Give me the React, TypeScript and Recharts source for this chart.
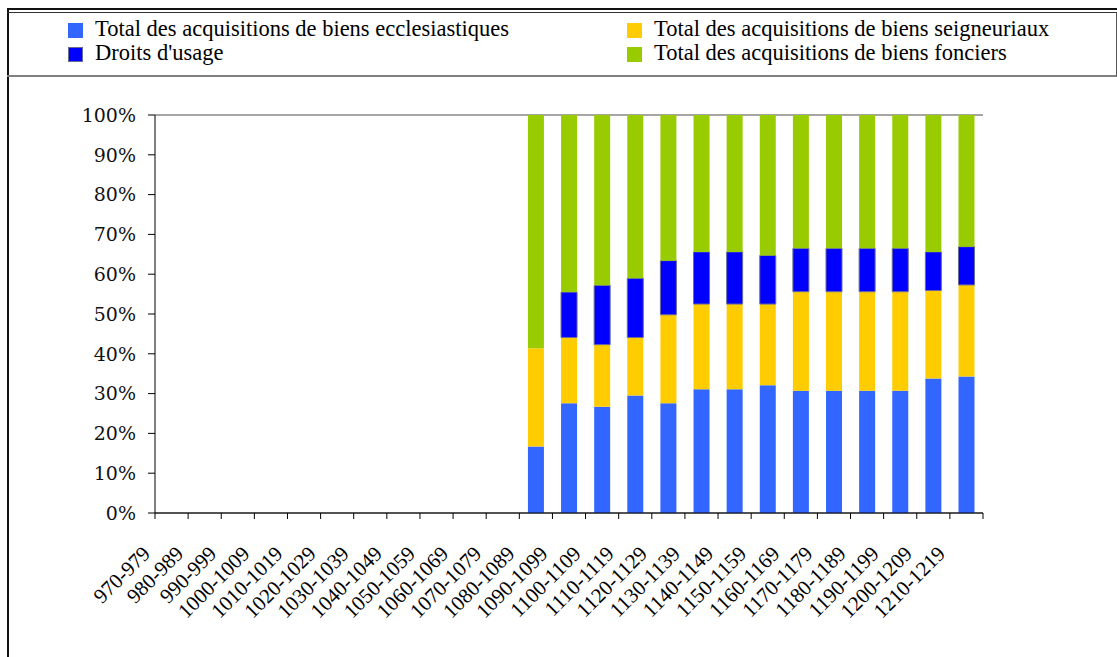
import React from 'react';
import { BarChart, Bar, XAxis, YAxis, CartesianGrid } from 'recharts';

const categories = [
  '970-979', '980-989', '990-999', '1000-1009', '1010-1019', '1020-1029', '1030-1039',
  '1040-1049', '1050-1059', '1060-1069', '1070-1079', '1080-1089', '1090-1099', '1100-1109',
  '1110-1119', '1120-1129', '1130-1139', '1140-1149', '1150-1159', '1160-1169', '1170-1179',
  '1180-1189', '1190-1199', '1200-1209', '1210-1219',
];

const ecclesiastiques = [0, 0, 0, 0, 0, 0, 0, 0, 0, 0, 0, 16.7, 27.6, 26.7, 29.5, 27.6, 31.1, 31.1, 32.1, 30.7, 30.7, 30.7, 30.7, 33.8, 34.3];
const seigneuriaux = [0, 0, 0, 0, 0, 0, 0, 0, 0, 0, 0, 24.7, 16.5, 15.6, 14.6, 22.2, 21.4, 21.4, 20.4, 24.9, 24.9, 24.9, 24.9, 22.1, 23.0];
const droitsUsage = [0, 0, 0, 0, 0, 0, 0, 0, 0, 0, 0, 0, 11.4, 14.9, 14.9, 13.6, 13.1, 13.1, 12.2, 10.9, 10.9, 10.9, 10.9, 9.7, 9.6];
const fonciers = [0, 0, 0, 0, 0, 0, 0, 0, 0, 0, 0, 58.6, 44.5, 42.8, 41.0, 36.6, 34.4, 34.4, 35.3, 33.5, 33.5, 33.5, 33.5, 34.4, 33.1];

const yTicks = [0, 10, 20, 30, 40, 50, 60, 70, 80, 90, 100];

const seriesNames = [
  'Total des acquisitions de biens ecclesiastiques',
  'Total des acquisitions de biens seigneuriaux',
  "Droits d'usage",
  'Total des acquisitions de biens fonciers',
];
const seriesKeys = ['eccl', 'seign', 'droits', 'fonc'];
const seriesColors = ['#3366FF', '#FFCC00', '#0000FF', '#99CC00'];
const seriesStrokes = ['none', 'none', '#6b6b99', 'none'];

const data = categories.map((c, i) => ({
  cat: c,
  eccl: ecclesiastiques[i],
  seign: seigneuriaux[i],
  droits: droitsUsage[i],
  fonc: fonciers[i],
}));

const FONT = '"Liberation Serif", "Times New Roman", serif';
const YFONT = '"DejaVu Serif", serif';
const PLOT_W = 1117 - 155 - 134;
const BAND = PLOT_W / categories.length;

const XTick = (props: any) => {
  const { x, y, payload, index } = props;
  const half = payload && typeof payload.offset === 'number' && payload.offset > 0 ? payload.offset : BAND / 2;
  const isLast = index === categories.length - 1;
  const px = x - 20;
  const py = y + 42;
  return (
    <g>
      <line x1={x - half} x2={x - half} y1={y} y2={y + 6} stroke="#000" strokeWidth={1} />
      {isLast && <line x1={x + half} x2={x + half} y1={y} y2={y + 6} stroke="#000" strokeWidth={1} />}
      <text
        x={px}
        y={py}
        textAnchor="end"
        fontFamily={FONT}
        fontSize={21}
        fill="#000"
        transform={`rotate(-45 ${px} ${py})`}
      >
        {payload.value}
      </text>
    </g>
  );
};

const Legend = () => {
  const cols = [
    [0, 2],
    [1, 3],
  ];
  const colLeft = [68, 627];
  return (
    <>
      {cols.map((col, ci) =>
        col.map((si, ri) => (
          <div
            key={si}
            style={{
              position: 'absolute',
              left: colLeft[ci],
              top: 17 + ri * 24,
              height: 24,
              display: 'flex',
              alignItems: 'center',
              fontFamily: FONT,
              fontSize: 22.5,
              color: '#000',
              whiteSpace: 'nowrap',
            }}
          >
            <span
              style={{
                display: 'inline-block',
                width: 15,
                height: 15,
                background: seriesColors[si],
                boxSizing: 'border-box',
                border: seriesStrokes[si] === 'none' ? 'none' : `1px solid ${seriesStrokes[si]}`,
                marginRight: 12,
                marginTop: 3,
              }}
            />
            <span>{seriesNames[si]}</span>
          </div>
        ))
      )}
    </>
  );
};

export default function App() {
  return (
    <div style={{ position: 'absolute', left: 0, top: 0, width: 1117, height: 657, background: '#fff', overflow: 'hidden' }}>
      <div style={{ position: 'absolute', left: 7, top: 8, width: 1112, height: 660, borderTop: '2px solid #111', borderLeft: '2px solid #111' }} />
      <div style={{ position: 'absolute', left: 7, top: 12, width: 1109, height: 62, borderTop: '1px solid #333', borderBottom: '2px solid #808080', borderRight: '1px solid #555' }} />
      <Legend />
      <div style={{ position: 'absolute', left: 0, top: 0 }}>
        <BarChart
          width={1117}
          height={657}
          data={data}
          margin={{ top: 115, right: 134, bottom: 0, left: 0 }}
          barCategoryGap="26%"
        >
          <CartesianGrid vertical={false} stroke="#4d4d4d" strokeWidth={1} />
          <XAxis
            dataKey="cat"
            height={144}
            interval={0}
            tickLine={false}
            tickSize={0}
            tickMargin={0}
            axisLine={{ stroke: '#000', strokeWidth: 1 }}
            tick={<XTick />}
          />
          <YAxis
            yAxisId="left"
            width={155}
            domain={[0, 100]}
            ticks={yTicks}
            interval={0}
            tickSize={7}
            tickMargin={12}
            tickFormatter={(v: number) => `${v}%`}
            axisLine={{ stroke: '#000', strokeWidth: 1 }}
            tickLine={{ stroke: '#000', strokeWidth: 1 }}
            tick={{ fontFamily: YFONT, fontSize: 19, fill: '#111' }}
          />
          <YAxis
            yAxisId="right"
            orientation="right"
            width={0}
            domain={[0, 100]}
            tick={false}
            tickLine={false}
            axisLine={{ stroke: '#999', strokeWidth: 1.5 }}
          />
          {seriesKeys.map((k, i) => (
            <Bar
              key={k}
              yAxisId="left"
              dataKey={k}
              stackId="s"
              fill={seriesColors[i]}
              stroke={seriesStrokes[i]}
              strokeWidth={seriesStrokes[i] === 'none' ? 0 : 1}
              isAnimationActive={false}
            />
          ))}
        </BarChart>
      </div>
    </div>
  );
}
